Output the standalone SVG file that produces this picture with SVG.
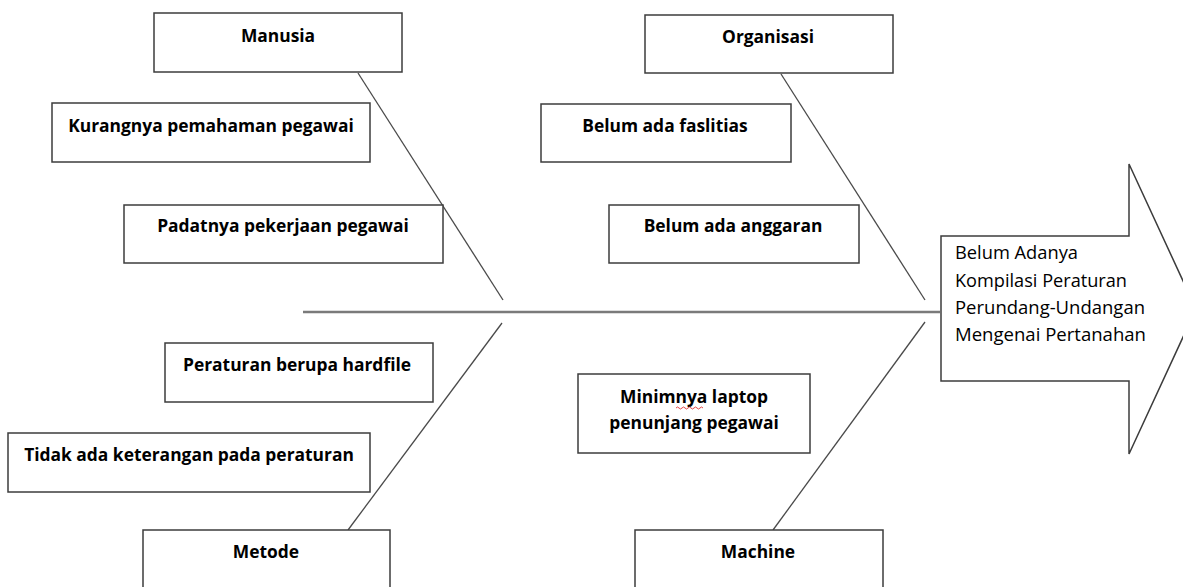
<svg xmlns="http://www.w3.org/2000/svg" width="1183" height="587" viewBox="0 0 1183 587">
<style>
.box{fill:#fff;stroke:#3c3c3c;stroke-width:1.5}
.t{font-family:"Open Sans","Noto Sans",sans-serif;font-weight:bold;font-size:17.4px;fill:#000;text-anchor:middle}
.r{font-family:"Open Sans","Noto Sans",sans-serif;font-size:18px;fill:#000}
.bone{stroke:#4a4a4a;stroke-width:1.3;fill:none}
.spine{stroke:#7a7a7a;stroke-width:2.4;fill:none}
</style>
<rect width="1183" height="587" fill="#fff"/>
<g id="connectors">
<line class="spine" x1="303" y1="312" x2="940" y2="312"/>
<line class="bone" x1="358" y1="73" x2="503" y2="300"/>
<line class="bone" x1="781" y1="74" x2="925" y2="300"/>
<line class="bone" x1="348" y1="530" x2="502" y2="323"/>
<line class="bone" x1="773" y1="530" x2="925" y2="322"/>
</g>
<g id="manusia"><rect class="box" x="154" y="13" width="248" height="59"/><text class="t" x="278" y="42">Manusia</text></g>
<g id="kurangnya"><rect class="box" x="52" y="103" width="318" height="59"/><text class="t" x="211" y="132">Kurangnya pemahaman pegawai</text></g>
<g id="padatnya"><rect class="box" x="124" y="205" width="319" height="58"/><text class="t" x="283" y="232">Padatnya pekerjaan pegawai</text></g>
<g id="organisasi"><rect class="box" x="645" y="15" width="248" height="58"/><text class="t" x="768" y="43">Organisasi</text></g>
<g id="faslitias"><rect class="box" x="541" y="104" width="250" height="58"/><text class="t" x="665" y="132">Belum ada faslitias</text></g>
<g id="anggaran"><rect class="box" x="609" y="205" width="250" height="58"/><text class="t" x="733" y="232">Belum ada anggaran</text></g>
<g id="hardfile"><rect class="box" x="165" y="343" width="268" height="59"/><text class="t" x="297" y="371">Peraturan berupa hardfile</text></g>
<g id="keterangan"><rect class="box" x="8" y="433" width="362" height="59"/><text class="t" x="189" y="461">Tidak ada keterangan pada peraturan</text></g>
<g id="metode"><rect class="box" x="143" y="530" width="247" height="62"/><text class="t" x="266" y="558">Metode</text></g>
<g id="laptop"><rect class="box" x="578" y="374" width="232" height="79"/><text class="t" x="694" y="403">Minimnya laptop</text><text class="t" x="694" y="429">penunjang pegawai</text>
<path d="M676 408 q1.5 -2 3 0 t3 0 t3 0 t3 0 t3 0 t3 0 t3 0 t3 0 t3 0" fill="none" stroke="#e03030" stroke-width="0.9"/></g>
<g id="machine"><rect class="box" x="635" y="530" width="248" height="62"/><text class="t" x="758" y="558">Machine</text></g>
<g id="effect"><path class="box" d="M941 236 H1129 V164 L1196 309 L1129 454 V381 H941 Z"/>
<text class="r" x="955" y="259" textLength="123" lengthAdjust="spacingAndGlyphs">Belum Adanya</text>
<text class="r" x="955" y="287" textLength="172" lengthAdjust="spacingAndGlyphs">Kompilasi Peraturan</text>
<text class="r" x="955" y="314" textLength="190" lengthAdjust="spacingAndGlyphs">Perundang-Undangan</text>
<text class="r" x="955" y="341" textLength="191" lengthAdjust="spacingAndGlyphs">Mengenai Pertanahan</text></g>
</svg>
